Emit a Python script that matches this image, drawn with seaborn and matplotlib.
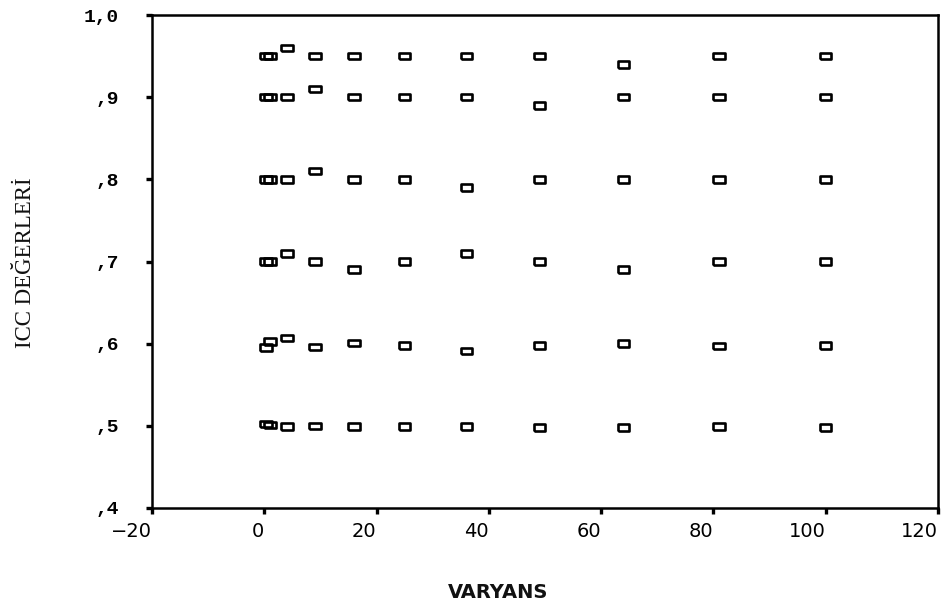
import numpy as np
import pandas as pd
import seaborn as sns
import matplotlib.pyplot as plt


sns.set_theme(style="ticks")
plt.rcParams["font.family"] = ["DejaVu Sans"]

# variance values (x) and the ICC obtained for each target level
varyans = [0.25, 1, 4, 9, 16, 25, 36, 49, 64, 81, 100]
icc_95 = [0.95, 0.95, 0.96, 0.95, 0.95, 0.95, 0.95, 0.95, 0.94, 0.95, 0.95]
icc_90 = [0.90, 0.90, 0.90, 0.91, 0.90, 0.90, 0.90, 0.89, 0.90, 0.90, 0.90]
icc_80 = [0.80, 0.80, 0.80, 0.81, 0.80, 0.80, 0.79, 0.80, 0.80, 0.80, 0.80]
icc_70 = [0.70, 0.70, 0.71, 0.70, 0.69, 0.70, 0.71, 0.70, 0.69, 0.70, 0.70]
icc_60 = [0.595, 0.603, 0.607, 0.596, 0.601, 0.598, 0.591, 0.598, 0.600, 0.597, 0.598]
icc_50 = [0.502, 0.501, 0.499, 0.500, 0.499, 0.499, 0.499, 0.498, 0.498, 0.499, 0.498]

x_ticks = [-20, 0, 20, 40, 60, 80, 100, 120]
y_ticks = [0.4, 0.5, 0.6, 0.7, 0.8, 0.9, 1.0]
y_tick_labels = [",4", ",5", ",6", ",7", ",8", ",9", "1,0"]

df = pd.concat(
    [pd.DataFrame({"VARYANS": varyans, "ICC": vals})
     for vals in (icc_95, icc_90, icc_80, icc_70, icc_60, icc_50)],
    ignore_index=True,
)

fig = plt.figure(figsize=(9.46, 6.08), dpi=100)
ax = fig.add_axes([0.1607, 0.1645, 0.8308, 0.8108])

# hollow, wide rectangle marker
rect = [(-1.75, -1), (1.75, -1), (1.75, 1), (-1.75, 1), (-1.75, -1)]
sns.scatterplot(ax=ax, data=df, x="VARYANS", y="ICC", marker=rect, s=70,
                facecolors="none", edgecolor="black", linewidth=1.9)

ax.set_xlim(-20, 120)
ax.set_ylim(0.4, 1.0)
ax.set_xticks(x_ticks)
ax.set_yticks(y_ticks)
ax.set_yticklabels(y_tick_labels, family=["Liberation Mono"],
                   fontweight="bold", fontsize=14)

for side in ["left", "right", "top", "bottom"]:
    ax.spines[side].set_visible(True)
    ax.spines[side].set_linewidth(1.8)
    ax.spines[side].set_color("black")

ax.tick_params(axis="both", direction="out", length=4, width=2.4,
               colors="black")
ax.tick_params(axis="y", pad=20)
ax.tick_params(axis="x", pad=6, labelsize=14)
for lbl in ax.get_xticklabels():
    lbl.set_horizontalalignment("right")

ax.set_xlabel("VARYANS", fontsize=14, fontweight="bold", color="#111111")
ax.xaxis.set_label_coords(0.44, -0.152)
ax.set_ylabel("ICC DEĞERLERİ", fontsize=16.5, family=["Liberation Serif"],
              color="#111111")
ax.yaxis.set_label_coords(-0.147, 0.497)

fig.savefig("out.png", dpi=100)
